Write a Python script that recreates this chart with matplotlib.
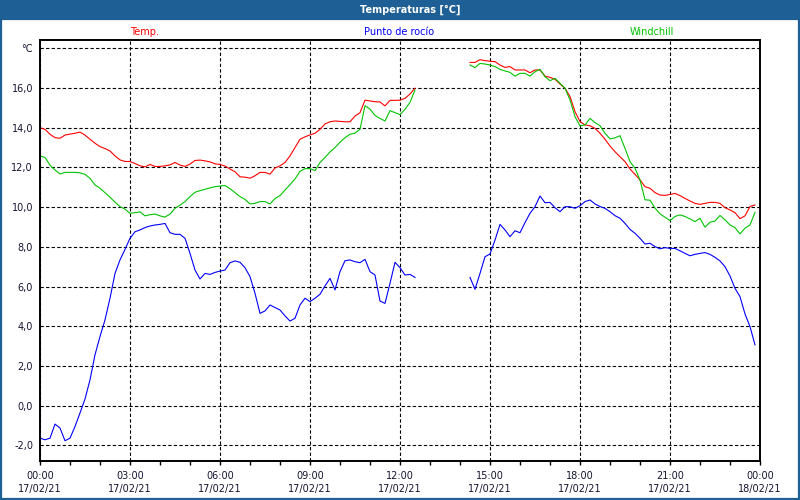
import numpy as np
import pandas as pd
import matplotlib
matplotlib.use("Agg")
import matplotlib.pyplot as plt
import matplotlib.dates as mdates
from matplotlib.patches import Rectangle

nan = np.nan

# 10-minute readings, 17/02/21 00:00 .. 23:50 (one row per hour)
temp = [
    14.00, 13.92, 13.67, 13.50, 13.47, 13.63,
    13.68, 13.72, 13.78, 13.63, 13.42, 13.22,
    13.05, 12.95, 12.83, 12.58, 12.38, 12.30,
    12.30, 12.20, 12.08, 12.03, 12.15, 12.05,
    12.05, 12.08, 12.13, 12.25, 12.12, 12.05,
    12.17, 12.35, 12.37, 12.33, 12.28, 12.18,
    12.15, 12.07, 11.92, 11.78, 11.53, 11.51,
    11.46, 11.58, 11.75, 11.75, 11.66, 11.97,
    12.08, 12.25, 12.58, 13.00, 13.42, 13.54,
    13.64, 13.72, 13.92, 14.19, 14.30, 14.34,
    14.32, 14.30, 14.30, 14.59, 14.76, 15.39,
    15.35, 15.31, 15.30, 15.10, 15.38, 15.38,
    15.39, 15.48, 15.70, 15.99, nan, nan,
    nan, nan, nan, nan, nan, nan,
    nan, nan, 17.29, 17.29, 17.43, 17.38,
    17.35, 17.33, 17.16, 17.04, 17.08, 16.91,
    16.91, 16.91, 16.77, 16.91, 16.91, 16.60,
    16.54, 16.44, 16.20, 15.99, 15.57, 14.81,
    14.31, 14.14, 14.10, 13.97, 13.72, 13.42,
    13.08, 12.79, 12.54, 12.29, 11.92, 11.65,
    11.37, 11.03, 10.95, 10.73, 10.61, 10.59,
    10.64, 10.69, 10.58, 10.44, 10.31, 10.19,
    10.14, 10.19, 10.24, 10.24, 10.19, 9.97,
    9.86, 9.72, 9.42, 9.56, 10.03, 10.11,
]

dew_point = [
    -1.64, -1.72, -1.64, -0.93, -1.13, -1.77,
    -1.64, -1.05, -0.37, 0.33, 1.30, 2.56,
    3.48, 4.32, 5.41, 6.66, 7.34, 7.87,
    8.43, 8.76, 8.85, 8.97, 9.05, 9.10,
    9.13, 9.18, 8.71, 8.63, 8.63, 8.43,
    7.67, 6.83, 6.38, 6.66, 6.61, 6.71,
    6.78, 6.83, 7.20, 7.29, 7.22, 6.95,
    6.50, 5.66, 4.65, 4.77, 5.07, 4.94,
    4.82, 4.52, 4.26, 4.40, 5.07, 5.41,
    5.24, 5.41, 5.61, 6.03, 6.41, 5.83,
    6.75, 7.30, 7.34, 7.25, 7.20, 7.37,
    6.75, 6.58, 5.27, 5.15, 6.16, 7.22,
    6.95, 6.58, 6.61, 6.46, nan, nan,
    nan, nan, nan, nan, nan, nan,
    nan, nan, 6.46, 5.86, 6.66, 7.50,
    7.64, 8.34, 9.13, 8.85, 8.51, 8.81,
    8.71, 9.22, 9.69, 10.02, 10.56, 10.22,
    10.24, 9.97, 9.77, 10.02, 10.02, 9.94,
    10.07, 10.28, 10.36, 10.16, 10.03, 9.94,
    9.77, 9.57, 9.44, 9.18, 8.88, 8.68,
    8.43, 8.14, 8.18, 8.01, 7.90, 7.96,
    7.92, 7.92, 7.80, 7.67, 7.55, 7.62,
    7.67, 7.71, 7.62, 7.47, 7.29, 7.00,
    6.53, 5.91, 5.49, 4.62, 3.98, 3.06,
]

windchill = [
    12.58, 12.50, 12.12, 11.87, 11.67, 11.75,
    11.75, 11.75, 11.73, 11.65, 11.45, 11.12,
    10.95, 10.73, 10.50, 10.25, 10.03, 9.90,
    9.69, 9.72, 9.76, 9.56, 9.62, 9.65,
    9.56, 9.50, 9.65, 9.94, 10.10, 10.28,
    10.53, 10.75, 10.83, 10.90, 10.97, 11.03,
    11.06, 11.09, 10.93, 10.73, 10.53, 10.39,
    10.16, 10.19, 10.28, 10.28, 10.16, 10.43,
    10.58, 10.86, 11.13, 11.42, 11.80, 11.94,
    11.94, 11.84, 12.25, 12.50, 12.78, 13.00,
    13.27, 13.50, 13.67, 13.73, 13.92, 15.11,
    14.94, 14.62, 14.47, 14.34, 14.86, 14.76,
    14.66, 14.93, 15.28, 15.90, nan, nan,
    nan, nan, nan, nan, nan, nan,
    nan, nan, 17.16, 17.03, 17.24, 17.21,
    17.16, 17.08, 16.94, 16.86, 16.79, 16.60,
    16.74, 16.74, 16.60, 16.82, 16.94, 16.57,
    16.37, 16.49, 16.24, 15.99, 15.40, 14.56,
    14.09, 14.14, 14.47, 14.26, 14.10, 13.72,
    13.44, 13.49, 13.60, 12.96, 12.29, 11.96,
    11.37, 10.37, 10.35, 9.95, 9.66, 9.49,
    9.32, 9.53, 9.61, 9.53, 9.41, 9.27,
    9.44, 8.99, 9.24, 9.30, 9.58, 9.36,
    9.10, 8.97, 8.65, 8.94, 9.10, 9.74,
]

times = pd.date_range("2021-02-17 00:00", periods=len(temp), freq="10min")
y_ticks = [-2, 0, 2, 4, 6, 8, 10, 12, 14, 16, 18]
y_labels = ["-2,0", "0,0", "2,0", "4,0", "6,0", "8,0", "10,0", "12,0",
            "14,0", "16,0", "°C"]

BAR = "#1e5f95"
TXT = "#141432"

fig = plt.figure(figsize=(8, 5), dpi=100, facecolor="white")
ax = fig.add_axes([0.05, 0.078, 0.90, 0.842])

ax.plot(times, temp, color="#ff0000", lw=0.8)
ax.plot(times, windchill, color="#00c400", lw=0.8)
ax.plot(times, dew_point, color="#0000ff", lw=0.8)

ax.set_xlim(pd.Timestamp("2021-02-17 00:00"), pd.Timestamp("2021-02-18 00:00"))
ax.set_ylim(-2.79, 18.42)
ax.set_yticks(y_ticks)
ax.set_yticklabels(y_labels)

ax.xaxis.set_major_locator(mdates.HourLocator(byhour=range(0, 24, 3)))
ax.xaxis.set_minor_locator(mdates.HourLocator())
ax.xaxis.set_major_formatter(mdates.DateFormatter("%H:%M\n%d/%m/%y"))

ax.tick_params(axis="y", length=0, pad=5, labelsize=7, labelcolor=TXT)
ax.tick_params(axis="x", which="both", length=3, width=1, direction="out",
               pad=4, labelsize=7, labelcolor=TXT)
for lbl in ax.get_xticklabels():
    lbl.set_linespacing(1.35)

ax.grid(True, which="major", color="black", lw=0.8, linestyle=(0, (3, 2)))
for sp in ax.spines.values():
    sp.set_linewidth(1.4)
    sp.set_color("black")

# title bar
fig.patches.append(Rectangle((0, 0.96), 1, 0.04, transform=fig.transFigure,
                             facecolor=BAR, edgecolor="none", zorder=0))
fig.text(0.5125, 0.981, "Temperaturas [°C]", color="white", fontsize=7,
         fontweight="bold", ha="center", va="center")
# window border
fig.patches.append(Rectangle((0.0015, 0.003), 0.997, 0.96, transform=fig.transFigure,
                             facecolor="none", edgecolor=BAR, lw=1.6, zorder=0))

# series labels above the plot
fig.text(145 / 800, 1 - 32 / 500, "Temp.", color="#ff0000", fontsize=7,
         ha="center", va="center")
fig.text(399 / 800, 1 - 32 / 500, "Punto de rocío", color="#0000ff", fontsize=7,
         ha="center", va="center")
fig.text(652 / 800, 1 - 32 / 500, "Windchill", color="#00c400", fontsize=7,
         ha="center", va="center")

fig.savefig("out.png", dpi=100, facecolor="white")
